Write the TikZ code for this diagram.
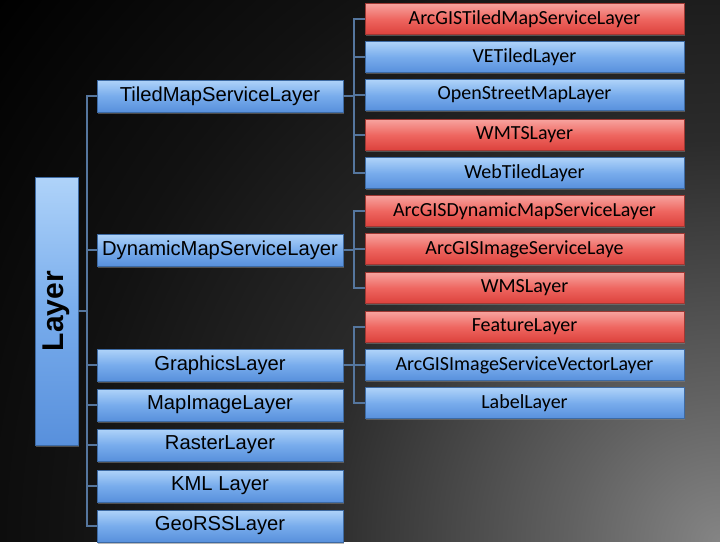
\documentclass[tikz,border=0pt]{standalone}
\usepackage{fontspec}
\usetikzlibrary{shadows}
\newfontfamily\leftfont{Liberation Sans}
\newfontfamily\rightfont{Carlito}
\definecolor{bluetop}{HTML}{AFD3F9}
\definecolor{bluemid}{HTML}{78ACEC}
\definecolor{bluebot}{HTML}{5890DC}
\definecolor{blueedge}{HTML}{3D6AA3}
\definecolor{redtop}{HTML}{F7A39E}
\definecolor{redmid}{HTML}{EE6660}
\definecolor{redbot}{HTML}{DC413C}
\definecolor{rededge}{HTML}{9E3833}
\definecolor{connc}{HTML}{55769E}
\pgfdeclareradialshading{bgshade}{\pgfpoint{0bp}{0bp}}{%
  color(0bp)=(black!48!white);
  color(150bp)=(black!62!white);
  color(400bp)=(black!83!white);
  color(650bp)=(black!93!white);
  color(900bp)=(black);
  color(1000bp)=(black)}
\tikzset{
  box/.style={draw, line width=0.6pt, inner sep=0pt, text=black,
    drop shadow={opacity=0.55, shadow xshift=0.8pt, shadow yshift=-1.8pt}},
  bluebox/.style={box, draw=blueedge, top color=bluetop, bottom color=bluebot, middle color=bluemid},
  redbox/.style={box, draw=rededge, top color=redtop, bottom color=redbot, middle color=redmid},
  leftbox/.style={bluebox, minimum width=246pt, minimum height=32pt,
    font=\leftfont\fontsize{20.2}{23}\selectfont},
  rightblue/.style={bluebox, minimum width=319pt, minimum height=31pt,
    font=\rightfont\fontsize{20}{23}\selectfont},
  rightred/.style={redbox, minimum width=319pt, minimum height=31pt,
    font=\rightfont\fontsize{20}{23}\selectfont},
  conn/.style={draw=connc, line width=1.1pt}
}
\begin{document}
\begin{tikzpicture}[x=1pt,y=-1pt]
\useasboundingbox (0,0) rectangle (720,550);
\begin{scope}
  \clip (0,0) rectangle (720,542);
  \fill[black] (0,0) rectangle (720,542);
  \node[inner sep=0pt] (bg) at (720,542) {\pgfuseshading{bgshade}};
\end{scope}
\fill[white] (0,542) rectangle (720,550);

\coordinate (trunk) at (87,0);
\coordinate (branch) at (354,0);

% Layer
\node[bluebox, rotate=90, minimum width=268pt, minimum height=43pt,
  font=\leftfont\bfseries\fontsize{30}{34}\selectfont] (layer) at (56.5,311) {Layer};

% left column
\node[leftbox] (tmsl) at (220,96) {TiledMapServiceLayer};
\node[leftbox] (dmsl) at (220,250) {DynamicMapServiceLayer};
\node[leftbox] (gl) at (220,365) {GraphicsLayer};
\node[leftbox] (mil) at (220,405) {MapImageLayer};
\node[leftbox] (rl) at (220,445) {RasterLayer};
\node[leftbox] (kml) at (220,486) {KML Layer};
\node[leftbox] (geo) at (220,526) {GeoRSSLayer};

% right column
\node[rightred] (agtm) at (524.5,19) {ArcGISTiledMapServiceLayer};
\node[rightblue] (vet) at (524.5,57) {VETiledLayer};
\node[rightblue] (osm) at (524.5,95) {OpenStreetMapLayer};
\node[rightred] (wmts) at (524.5,135) {WMTSLayer};
\node[rightblue] (wtl) at (524.5,173) {WebTiledLayer};
\node[rightred] (agdm) at (524.5,211) {ArcGISDynamicMapServiceLayer};
\node[rightred] (agis) at (524.5,249) {ArcGISImageServiceLaye};
\node[rightred] (wms) at (524.5,288) {WMSLayer};
\node[rightred] (fl) at (524.5,327) {FeatureLayer};
\node[rightblue] (agisv) at (524.5,365) {ArcGISImageServiceVectorLayer};
\node[rightblue] (ll) at (524.5,403) {LabelLayer};

% connectors
\foreach \n in {tmsl,dmsl,gl,mil,rl,kml,geo}
  \draw[conn] (layer.south) -- (layer.south -| trunk) |- (\n.west);
\foreach \n in {agtm,vet,osm,wmts,wtl}
  \draw[conn] (tmsl.east) -- (tmsl.east -| branch) |- (\n.west);
\foreach \n in {agdm,agis,wms}
  \draw[conn] (dmsl.east) -- (dmsl.east -| branch) |- (\n.west);
\foreach \n in {fl,agisv,ll}
  \draw[conn] (gl.east) -- (gl.east -| branch) |- (\n.west);
\end{tikzpicture}
\end{document}
